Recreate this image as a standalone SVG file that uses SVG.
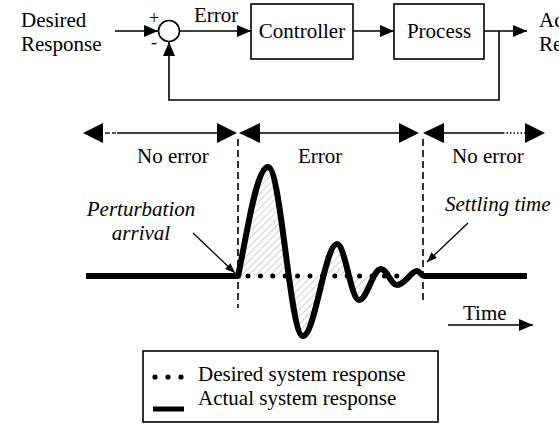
<svg xmlns="http://www.w3.org/2000/svg" width="559" height="432" viewBox="0 0 559 432" font-family="'Liberation Serif', 'Times New Roman', 'DejaVu Serif', serif">
<style>
text{font-family:'Liberation Serif','Times New Roman','DejaVu Serif',serif;font-size:21px;fill:#000}
.it{font-style:italic}
.ln{stroke:#000;stroke-width:1.6;fill:none}
.thin{stroke:#000;stroke-width:1.3;fill:none}
.box{stroke:#000;stroke-width:1.6;fill:#fff}
.dash{stroke:#000;stroke-width:1.6;stroke-dasharray:7 4;fill:none}
.head{fill:#000}
</style>
<defs>
<marker id="ah" markerUnits="userSpaceOnUse" markerWidth="14" markerHeight="12" refX="14" refY="6" orient="auto"><path d="M0,0 L14,6 L0,12 z" fill="#000"/></marker>
<marker id="as" markerUnits="userSpaceOnUse" markerWidth="10" markerHeight="8" refX="10" refY="4" orient="auto"><path d="M0,0 L10,4 L0,8 z" fill="#000"/></marker>
<pattern id="hatch" patternUnits="userSpaceOnUse" width="5" height="5" patternTransform="rotate(45)"><line x1="0" y1="0" x2="0" y2="5" stroke="#c4c4c4" stroke-width="1.6"/></pattern>
</defs>

<g id="connectors">
<line class="ln" x1="115" y1="31" x2="158" y2="31" marker-end="url(#ah)"/>
<line class="ln" x1="179.5" y1="31" x2="251" y2="31" marker-end="url(#ah)"/>
<line class="ln" x1="353" y1="31" x2="394" y2="31" marker-end="url(#ah)"/>
<line class="ln" x1="484" y1="31" x2="527" y2="31" marker-end="url(#ah)"/>
<polyline class="ln" points="499,31 499,100 169,100 169,42" marker-end="url(#ah)"/>
</g>

<g id="sum">
<circle cx="169" cy="31" r="10.5" fill="#fff" stroke="#000" stroke-width="1.6"/>
<text x="149" y="24" style="font-size:18px">+</text>
<text x="151" y="48" style="font-size:18px">-</text>
</g>
<g id="controller"><rect class="box" x="251" y="4" width="102" height="55"/><text x="302" y="38" text-anchor="middle">Controller</text></g>
<g id="process"><rect class="box" x="394" y="4" width="90" height="55"/><text x="439" y="38" text-anchor="middle">Process</text></g>
<g id="labels-top">
<text x="21" y="27">Desired</text>
<text x="21" y="51">Response</text>
<text x="194" y="22">Error</text>
<text x="539" y="27">Actual</text>
<text x="539" y="51">Response</text>
</g>

<g id="intervals">
<polygon class="head" points="83,133 103,123 103,143"/>
<line class="thin" x1="105" y1="133" x2="110" y2="133"/>
<line class="thin" x1="112" y1="133" x2="116" y2="133"/>
<line class="ln" x1="117" y1="133" x2="218" y2="133"/>
<polygon class="head" points="237,133 217,123 217,143"/>
<polygon class="head" points="239,133 260,123 260,143"/>
<line class="ln" x1="259" y1="133" x2="400" y2="133"/>
<polygon class="head" points="419,133 399,123 399,143"/>
<polygon class="head" points="423,133 444,123 444,143"/>
<line class="ln" x1="443" y1="133" x2="503" y2="133"/>
<line x1="503" y1="133" x2="526" y2="133" stroke="#000" stroke-width="1.6" stroke-dasharray="1.5 2"/>
<polygon class="head" points="545,133 525,123 525,143"/>
<text x="137" y="163">No error</text>
<text x="298" y="163">Error</text>
<text x="452" y="163">No error</text>
</g>

<g id="markers-lines">
<line class="dash" x1="238" y1="139" x2="238" y2="308"/>
<line class="dash" x1="423" y1="139" x2="423" y2="301"/>
</g>

<g id="response">
<path d="M238,276 C246,240 256,167 268,167 C281,167 290,336 303,336 C315,336 325,244 337,244 C345,244 351,300 359,300 C367,300 373,269 381,269 C387,269 391,285 397,285 C405,285 411,271 417,271 C420,271 421,276 424,276 Z" fill="url(#hatch)" stroke="none"/>
<line x1="248" y1="276" x2="420" y2="276" stroke="#000" stroke-width="5" stroke-linecap="round" stroke-dasharray="0 12.4"/>
<path d="M86,276 H238 C246,240 256,167 268,167 C281,167 290,336 303,336 C315,336 325,244 337,244 C345,244 351,300 359,300 C367,300 373,269 381,269 C387,269 391,285 397,285 C405,285 411,271 417,271 C420,271 421,276 424,276 H527" fill="none" stroke="#000" stroke-width="6" stroke-linejoin="round"/>
</g>

<g id="annotations">
<text class="it" x="141" y="216" text-anchor="middle">Perturbation</text>
<text class="it" x="141" y="240" text-anchor="middle">arrival</text>
<line class="thin" x1="193" y1="233" x2="235" y2="273" marker-end="url(#as)"/>
<text class="it" x="445" y="211">Settling time</text>
<line class="thin" x1="468" y1="223" x2="427" y2="262" marker-end="url(#as)"/>
<text x="463" y="320">Time</text>
<line class="ln" x1="448" y1="325" x2="533" y2="325" marker-end="url(#ah)"/>
</g>

<g id="legend">
<rect x="143" y="351" width="295" height="71" fill="#fff" stroke="#000" stroke-width="1.6"/>
<circle cx="155" cy="377" r="2.6"/>
<circle cx="168" cy="377" r="2.6"/>
<circle cx="181" cy="377" r="2.6"/>
<line x1="153" y1="409" x2="184" y2="409" stroke="#000" stroke-width="5"/>
<text x="198" y="381">Desired system response</text>
<text x="198" y="405">Actual system response</text>
</g>
</svg>
